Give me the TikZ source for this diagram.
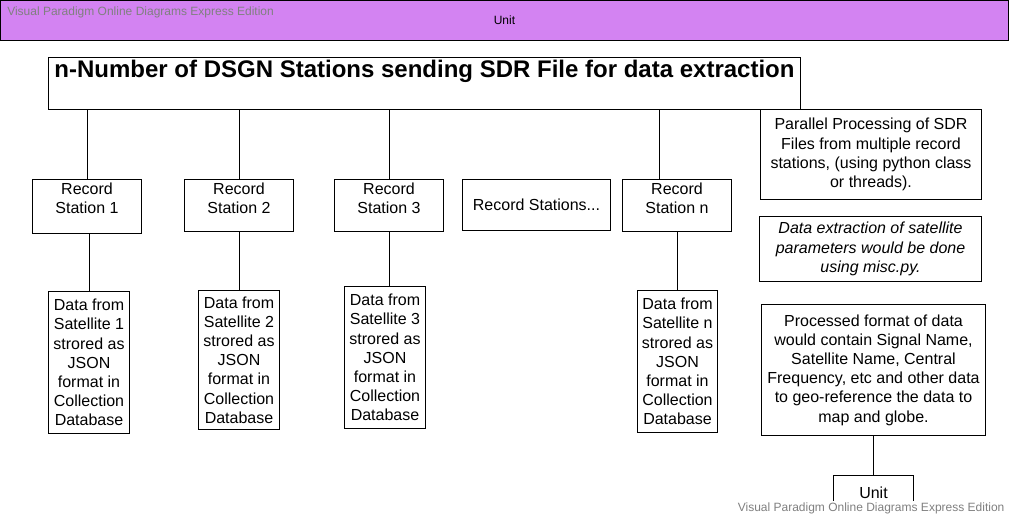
\documentclass[tikz,border=0pt]{standalone}
\usepackage{fontspec}
\setmainfont{Liberation Sans}
\definecolor{barpurple}{RGB}{211,131,242}
\definecolor{wmgray}{RGB}{128,128,128}
\def\unitpx{0.75pt}
\tikzset{
  box/.style={draw, line width=0.75pt, anchor=north west, align=center, inner sep=0pt},
  boxsize/.style 2 args={minimum width=#1*\unitpx, minimum height=#2*\unitpx},
  toptext/.style={label={[align=center, inner sep=0pt, anchor=north, yshift=-2.5pt]north:{#1}}},
  link/.style={line width=0.75pt},
  watermark/.style={font=\fontsize{9}{10.8}\selectfont, text=wmgray, inner sep=0pt}
}
\begin{document}
\begin{tikzpicture}[x=0.75pt, y=-0.75pt, font=\fontsize{12}{14.4}\selectfont]
\useasboundingbox (0,0) rectangle (1011,518);
% header bar
\node[box, boxsize={1008}{40}, fill=barpurple, font=\fontsize{9}{10.8}\selectfont] (bar) at (0,0) {Unit};
\node[watermark, anchor=west] (wmtop) at (7,12.5) {Visual Paradigm Online Diagrams Express Edition};
% title
\node[box, boxsize={752}{52},
  label={[font=\bfseries\fontsize{18}{21.6}\selectfont, inner sep=0pt, anchor=north, yshift=-2.25pt]north:{n-Number of DSGN Stations sending SDR File for data extraction}}] (title) at (48,57) {};
% record stations
\node[box, boxsize={109}{54}, toptext={Record\\Station 1}] (s1) at (32,179) {};
\node[box, boxsize={109}{52}, toptext={Record\\Station 2}] (s2) at (184,179) {};
\node[box, boxsize={109}{52}, toptext={Record\\Station 3}] (s3) at (334,179) {};
\node[box, boxsize={148}{51}] (sdots) at (462,179) {Record Stations...};
\node[box, boxsize={109}{52}, toptext={Record\\Station n}] (sn) at (622,179) {};
% data from satellites
\node[box, boxsize={81}{142}] (d1) at (48,291) {Data from\\Satellite 1\\strored as\\JSON\\format in\\Collection\\Database};
\node[box, boxsize={81}{139}] (d2) at (198,290) {Data from\\Satellite 2\\strored as\\JSON\\format in\\Collection\\Database};
\node[box, boxsize={81}{142}] (d3) at (344,286) {Data from\\Satellite 3\\strored as\\JSON\\format in\\Collection\\Database};
\node[box, boxsize={80}{142}] (dn) at (637,290) {Data from\\Satellite n\\strored as\\JSON\\format in\\Collection\\Database};
% notes on the right
\node[box, boxsize={221}{90}] (par) at (760,109) {Parallel Processing of SDR\\Files from multiple record\\stations, (using python class\\or threads).};
\node[box, boxsize={222}{65}, font=\fontsize{12}{14.4}\selectfont\itshape] (xtr) at (759,216) {Data extraction of satellite\\parameters would be done\\using misc.py.};
\node[box, boxsize={224}{131}] (proc) at (761,304) {Processed format of data\\would contain Signal Name,\\Satellite Name, Central\\Frequency, etc and other data\\to geo-reference the data to\\map and globe.};
\node[box, boxsize={80}{35}] (unit) at (833,475) {Unit};
\node[watermark, anchor=south east, fill=white, inner xsep=1pt, inner ysep=1.5pt] (wmbot) at (1006,516) {Visual Paradigm Online Diagrams Express Edition};
% connectors
\draw[link] (s1.north) -- (s1.north |- title.south);
\draw[link] (s2.north) -- (s2.north |- title.south);
\draw[link] (s3.north) -- (s3.north |- title.south);
\draw[link] ([xshift=-13.5pt]sn.north) -- ([xshift=-13.5pt]sn.north |- title.south);
\draw[link] (d1.north) -- (d1.north |- s1.south);
\draw[link] (d2.north) -- (d2.north |- s2.south);
\draw[link] (s3.south) -- (s3.south |- d3.north);
\draw[link] (dn.north) -- (dn.north |- sn.south);
\draw[link] (proc.south) -- (unit.north);
\end{tikzpicture}
\end{document}
